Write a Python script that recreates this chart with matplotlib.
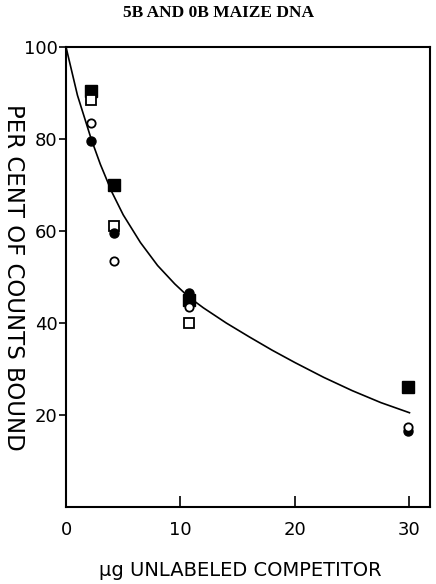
import matplotlib.pyplot as plt
import numpy as np

# curve
curve_x = [0, 1, 2.2, 3, 4, 5, 6.5, 8, 9.5, 10.7, 12, 14, 16, 18, 20, 22.5, 25, 27.5, 30]
curve_y = [100, 89.5, 80, 74.5, 68.5, 63.5, 57.5, 52.5, 48.5, 45.7, 43.3, 40, 37, 34.1, 31.4, 28.2, 25.3, 22.7, 20.5]

# symbols
fsq_x = [2.2, 4.2, 10.7, 29.9]
fsq_y = [90.5, 70, 45, 26]
osq_x = [2.2, 4.2, 10.7]
osq_y = [88.5, 61, 40]
fci_x = [2.2, 4.2, 10.7, 10.7, 29.9]
fci_y = [79.5, 59.5, 46.5, 45.5, 16.5]
oci_x = [2.2, 4.2, 10.7, 29.9]
oci_y = [83.5, 53.5, 43.5, 17.5]

xticks = [0, 10, 20, 30]
yticks = [20, 40, 60, 80, 100]

fig = plt.figure(figsize=(4.36, 5.84), dpi=100)
ax = fig.add_axes([0.1514, 0.1318, 0.835, 0.7877])

ax.plot(curve_x, curve_y, color='black', lw=1.2)
ax.plot(fsq_x, fsq_y, 's', ms=8, mfc='black', mec='black', ls='none')
ax.plot(osq_x, osq_y, 's', ms=7.5, mfc='white', mec='black', mew=1.3, ls='none')
ax.plot(fci_x, fci_y, 'o', ms=6.5, mfc='black', mec='black', ls='none')
ax.plot(oci_x, oci_y, 'o', ms=6, mfc='white', mec='black', mew=1.3, ls='none')

ax.set_xlim(0, 31.8)
ax.set_ylim(0, 100)
ax.set_xticks(xticks)
ax.set_yticks(yticks)
ax.tick_params(axis='x', direction='in', length=8, width=1.2, pad=10, labelsize=13)
ax.tick_params(axis='y', direction='out', length=5, width=1.2, pad=1, labelsize=13)
for s in ax.spines.values():
    s.set_linewidth(1.5)

ax.set_xlabel('\u00b5g UNLABELED COMPETITOR', fontsize=14, va='center')
ax.xaxis.set_label_coords(0.478, -0.139)
ax.set_ylabel('PER CENT OF COUNTS BOUND', fontsize=16.5, rotation=-90, va='center')
ax.yaxis.set_label_coords(-0.143, 0.5)

fig.text(0.5, 0.977, '5B AND 0B MAIZE DNA', ha='center', va='center',
         family='Liberation Serif', fontsize=12.5, fontweight='bold')

fig.savefig('out.png', dpi=100)
